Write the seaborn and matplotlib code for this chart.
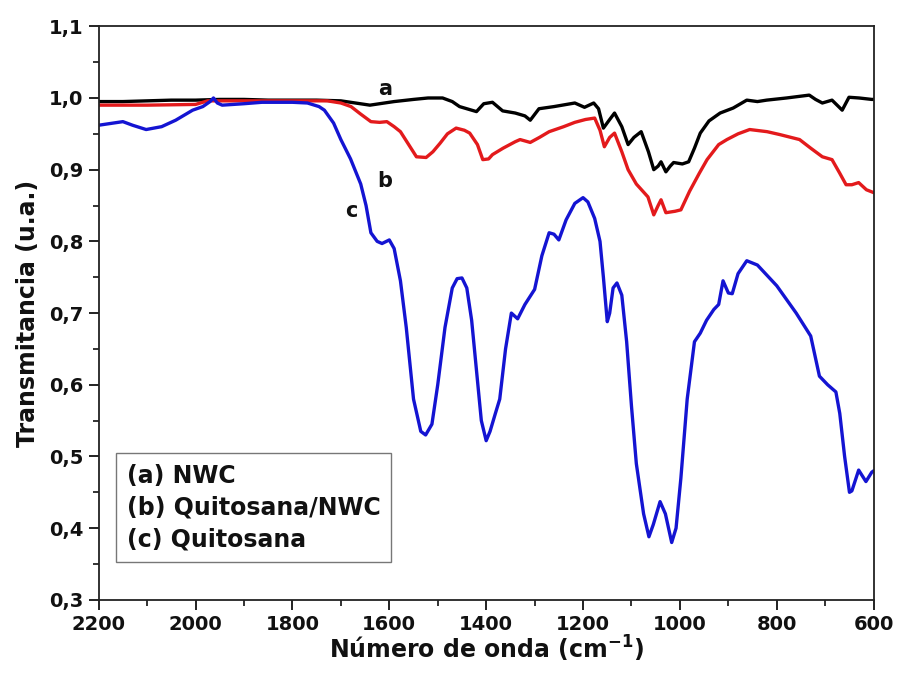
import numpy as np
import pandas as pd
import matplotlib
matplotlib.use("Agg")
import matplotlib.pyplot as plt
import seaborn as sns
from matplotlib.ticker import MultipleLocator, FuncFormatter

sns.set_style("ticks")
plt.rcParams['font.family'] = ['DejaVu Sans']
plt.rcParams['font.weight'] = 'bold'
plt.rcParams['mathtext.fontset'] = 'dejavusans'
plt.rcParams['mathtext.default'] = 'bf'
plt.rcParams['text.color'] = '#111111'
plt.rcParams['axes.labelcolor'] = '#111111'

# ---------- datos ----------
wn_a = [2200, 2150, 2100, 2050, 2000, 1950, 1900, 1850, 1800, 1750, 1700, 1670, 1640, 1620,
        1590, 1550, 1520, 1490, 1470, 1455, 1440, 1420, 1405, 1387, 1366, 1340, 1320, 1309,
        1291, 1260, 1217, 1197, 1178, 1168, 1158, 1145, 1135, 1120, 1107, 1095, 1080, 1065,
        1054, 1045, 1039, 1029, 1020, 1013, 995, 982, 970, 958, 940, 917, 890, 862, 840, 821,
        780, 733, 720, 706, 686, 665, 651, 630, 604, 600]
t_a = [0.995, 0.995, 0.996, 0.997, 0.997, 0.998, 0.998, 0.997, 0.997, 0.997, 0.996, 0.993,
       0.990, 0.992, 0.995, 0.998, 1.000, 1.000, 0.995, 0.988, 0.985, 0.981, 0.992, 0.994,
       0.982, 0.979, 0.975, 0.969, 0.985, 0.988, 0.993, 0.987, 0.993, 0.985, 0.958, 0.970,
       0.979, 0.960, 0.935, 0.945, 0.953, 0.925, 0.900, 0.905, 0.911, 0.897, 0.905, 0.910,
       0.908, 0.911, 0.930, 0.951, 0.968, 0.979, 0.986, 0.997, 0.995, 0.997, 1.000, 1.004,
       0.998, 0.993, 0.997, 0.983, 1.001, 1.000, 0.998, 0.998]

wn_b = [2200, 2100, 2000, 1975, 1900, 1800, 1728, 1700, 1679, 1660, 1638, 1620, 1605, 1590,
        1577, 1560, 1544, 1524, 1510, 1495, 1480, 1462, 1445, 1434, 1418, 1407, 1395, 1387,
        1365, 1340, 1330, 1309, 1290, 1270, 1240, 1217, 1195, 1176, 1165, 1156, 1145, 1135,
        1120, 1107, 1090, 1066, 1054, 1045, 1039, 1029, 1010, 998, 980, 960, 944, 920, 903,
        880, 856, 820, 794, 753, 730, 706, 686, 670, 657, 645, 631, 615, 600]
t_b = [0.990, 0.990, 0.991, 0.996, 0.996, 0.996, 0.996, 0.993, 0.988, 0.978, 0.967, 0.966,
       0.967, 0.960, 0.953, 0.935, 0.918, 0.917, 0.925, 0.937, 0.950, 0.958, 0.955, 0.951,
       0.935, 0.914, 0.915, 0.921, 0.930, 0.939, 0.942, 0.938, 0.945, 0.953, 0.960, 0.966,
       0.970, 0.972, 0.955, 0.932, 0.945, 0.951, 0.925, 0.900, 0.880, 0.862, 0.837, 0.850,
       0.858, 0.840, 0.842, 0.844, 0.870, 0.895, 0.914, 0.935, 0.942, 0.950, 0.956, 0.953,
       0.949, 0.942, 0.930, 0.918, 0.914, 0.895, 0.879, 0.879, 0.882, 0.872, 0.868]

wn_c = [2200, 2170, 2150, 2130, 2102, 2070, 2041, 2006, 1985, 1970, 1963, 1955, 1945, 1900,
        1863, 1800, 1769, 1745, 1734, 1715, 1700, 1680, 1659, 1648, 1638, 1625, 1615, 1600,
        1590, 1577, 1565, 1550, 1535, 1525, 1512, 1500, 1485, 1470, 1460, 1450, 1440, 1430,
        1420, 1410, 1400, 1392, 1381, 1372, 1360, 1348, 1335, 1320, 1300, 1285, 1270, 1260,
        1250, 1235, 1217, 1200, 1190, 1176, 1165, 1158, 1150, 1145, 1138, 1130, 1120, 1110,
        1100, 1090, 1075, 1064, 1055, 1041, 1030, 1017, 1008, 998, 985, 970, 958, 945, 930,
        920, 911, 900, 892, 880, 862, 840, 800, 760, 730, 712, 695, 678, 670, 660, 650, 645,
        631, 616, 604, 600]
t_c = [0.962, 0.965, 0.967, 0.962, 0.956, 0.960, 0.969, 0.983, 0.988, 0.995, 1.000, 0.993,
       0.990, 0.992, 0.994, 0.994, 0.993, 0.988, 0.983, 0.965, 0.942, 0.915, 0.880, 0.850,
       0.812, 0.800, 0.797, 0.802, 0.790, 0.745, 0.680, 0.580, 0.535, 0.530, 0.545, 0.600,
       0.680, 0.735, 0.748, 0.749, 0.735, 0.690, 0.620, 0.550, 0.522, 0.535, 0.560, 0.580,
       0.650, 0.700, 0.692, 0.712, 0.733, 0.780, 0.812, 0.810, 0.802, 0.830, 0.853, 0.861,
       0.855, 0.832, 0.800, 0.750, 0.688, 0.700, 0.735, 0.742, 0.725, 0.660, 0.570, 0.490,
       0.420, 0.388, 0.405, 0.437, 0.420, 0.380, 0.400, 0.470, 0.580, 0.660, 0.672, 0.690,
       0.705, 0.712, 0.745, 0.728, 0.727, 0.755, 0.773, 0.767, 0.738, 0.700, 0.668, 0.612,
       0.600, 0.590, 0.560, 0.500, 0.450, 0.452, 0.481, 0.465, 0.478, 0.480]

legend_labels = ['(a) NWC', '(b) Quitosana/NWC', '(c) Quitosana']
curve_tags = ['a', 'b', 'c']
tag_pos = [(1609, 1.013), (1609, 0.884), (1678, 0.842)]
colors = ['black', '#e31a1c', '#1414d2']

df = pd.concat([
    pd.DataFrame({'wn': wn_a, 't': t_a, 'serie': 'a'}),
    pd.DataFrame({'wn': wn_b, 't': t_b, 'serie': 'b'}),
    pd.DataFrame({'wn': wn_c, 't': t_c, 'serie': 'c'}),
])

fig = plt.figure(figsize=(8.97, 6.74), dpi=100)
ax = fig.add_axes([0.110, 0.110, 0.864, 0.851])

sns.lineplot(data=df, x='wn', y='t', hue='serie', palette=dict(zip(curve_tags, colors)),
             sort=False, estimator=None, linewidth=2.4, legend=False, ax=ax)

for tag, (xx, yy) in zip(curve_tags, tag_pos):
    ax.text(xx, yy, tag, fontsize=15, fontweight='bold', ha='center', va='center')

ax.set_xlim(2200, 600)
ax.set_ylim(0.3, 1.1)
ax.xaxis.set_major_locator(MultipleLocator(200))
ax.xaxis.set_minor_locator(MultipleLocator(100))
ax.yaxis.set_major_locator(MultipleLocator(0.1))
ax.yaxis.set_minor_locator(MultipleLocator(0.05))
ax.yaxis.set_major_formatter(FuncFormatter(lambda v, p: f"{v:.1f}".replace('.', ',')))
ax.tick_params(which='major', direction='out', length=7, width=1.3, labelsize=14, pad=4,
               colors='#111111')
ax.tick_params(which='minor', direction='out', length=4, width=1.2, colors='#111111')
for lab in ax.get_xticklabels() + ax.get_yticklabels():
    lab.set_fontweight('bold')
for sp in ax.spines.values():
    sp.set_linewidth(1.3)
    sp.set_color('#222222')

ax.set_xlabel('Número de onda (cm$^{-1}$)', fontsize=17, fontweight='bold', labelpad=0)
ax.set_ylabel('Transmitancia (u.a.)', fontsize=17, fontweight='bold', labelpad=6)

handles = [plt.Line2D([], [], color='none') for _ in legend_labels]
leg = ax.legend(handles, legend_labels, loc='lower left', bbox_to_anchor=(0.023, 0.066),
                handlelength=0, handletextpad=0, fancybox=False, frameon=True,
                edgecolor='#555555', prop={'weight': 'bold', 'size': 17},
                borderpad=0.45, labelspacing=0.33, borderaxespad=0)
leg.get_frame().set_linewidth(1.0)

fig.savefig('out.png', dpi=100)
